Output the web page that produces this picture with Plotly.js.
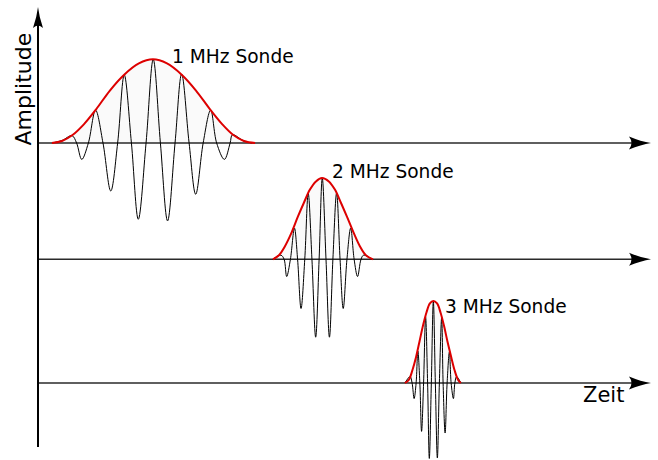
<!DOCTYPE html>
<html><head><meta charset="utf-8">
<script src="https://cdn.plot.ly/plotly-3.0.1.min.js"></script>
<style>html,body{margin:0;padding:0;background:#fff}#chart{width:658px;height:460px}</style>
</head><body><div id="chart"></div>
<script>
// Time in microseconds, amplitude normalised (peak ~1)
const probeLabels = ['1 MHz Sonde', '2 MHz Sonde', '3 MHz Sonde'];
const xAxisLabel = 'Zeit';
const yAxisLabel = 'Amplitude';

const wave1T = [0.45,0.80,1.15,1.31,1.49,1.72,1.97,2.23,2.50,2.74,2.97,3.22,3.46,3.73,3.98,4.23,4.48,4.74,4.97,5.23,5.46,5.72,5.98,6.19,6.46,6.66,6.74,7.14,7.42];
const wave1A = [0,0.03,0.09,0,-0.20,0,0.40,0,-0.585,0,0.83,0,-0.93,0,1.02,0,-0.95,0,0.84,0,-0.625,0,0.40,0,-0.20,0,0.10,0.025,0];
const env1T = [0.45,0.80,1.18,1.57,1.99,2.47,2.96,3.48,3.97,4.46,4.98,5.47,5.96,6.38,6.76,7.14,7.53];
const env1A = [0,0.025,0.10,0.23,0.41,0.64,0.83,0.97,1.02,0.97,0.83,0.64,0.41,0.23,0.10,0.025,0];

const wave2T = [8.15,8.43,8.54,8.63,8.76,8.90,9.01,9.13,9.26,9.38,9.51,9.64,9.76,9.87,10.00,10.12,10.24,10.37,10.49,10.60,10.73,10.86,10.98,11.10,11.22,11.31,11.60];
const wave2A = [0,0.05,0,-0.21,0,0.38,0,-0.60,0,0.805,0,-0.95,0,0.99,0,-0.95,0,0.81,0,-0.60,0,0.38,0,-0.21,0,0.05,0];
const env2T = [8.15,8.36,8.57,8.78,9.02,9.23,9.44,9.65,9.86,10.10,10.31,10.52,10.73,10.98,11.18,11.39,11.64];
const env2A = [0,0.05,0.16,0.31,0.52,0.69,0.85,0.95,0.99,0.95,0.85,0.69,0.52,0.31,0.16,0.05,0];

const wave3T = [12.75,12.93,13.00,13.07,13.14,13.20,13.27,13.33,13.40,13.47,13.54,13.60,13.67,13.74,13.81,13.88,13.95,14.03,14.08,14.15,14.22,14.30,14.36,14.44,14.49,14.55,14.70];
const wave3A = [0,0.077,0,-0.19,0,0.39,0,-0.59,0,0.81,0,-0.92,0,1.00,0,-0.915,0,0.80,0,-0.61,0,0.38,0,-0.19,0,0.077,0];
const env3T = [12.75,12.89,13.01,13.14,13.26,13.38,13.50,13.62,13.74,13.87,13.99,14.11,14.23,14.36,14.48,14.60,14.70];
const env3A = [0,0.04,0.155,0.32,0.51,0.70,0.86,0.97,1.0,0.97,0.86,0.70,0.51,0.32,0.155,0.04,0];

// ---- layout geometry ----
const W = 658, H = 460;
const M = {l: 38, r: 7, t: 7, b: 0};
const AXIS_BOTTOM_PX = 13;   // vertical axis stops this far above the bottom edge
const PX_PER_US = 28.7;      // horizontal scale
const PX_PER_UNIT = 82;      // vertical scale
const baselinesPx = [143, 259.3, 383];
const plotW = W - M.l - M.r, plotH = H - M.t - M.b;
const xRange = [-1 / PX_PER_US, (plotW - 1) / PX_PER_US];
function yRangeFor(b) { return [-(H - M.b - b) / PX_PER_UNIT, (b - M.t) / PX_PER_UNIT]; }

const RED = '#dd0000';
const waves = [[wave1T, wave1A], [wave2T, wave2A], [wave3T, wave3A]];
const envs = [[env1T, env1A], [env2T, env2A], [env3T, env3A]];
const yNames = ['y', 'y2', 'y3'];

const traces = [];
waves.forEach((w, i) => {
  traces.push({x: envs[i][0], y: envs[i][1], yaxis: yNames[i], xaxis: 'x', type: 'scatter', mode: 'lines',
    line: {color: 'rgba(0,0,0,0)', width: 0, shape: 'spline'}, fill: 'tozeroy', fillcolor: 'rgba(0,0,0,0.018)', hoverinfo: 'skip'});
  traces.push({x: w[0], y: w[1], yaxis: yNames[i], xaxis: 'x', type: 'scatter', mode: 'lines',
    line: {color: '#000', width: 1, shape: 'spline', smoothing: 1}, hoverinfo: 'skip'});
  traces.push({x: envs[i][0], y: envs[i][1], yaxis: yNames[i], xaxis: 'x', type: 'scatter', mode: 'lines',
    line: {color: RED, width: 2, shape: 'spline', smoothing: 1}, hoverinfo: 'skip'});
});

const hidden = {visible: false, showgrid: false, zeroline: false, fixedrange: true};
const shapes = [];
// vertical axis
shapes.push({type: 'line', xref: 'paper', yref: 'paper', x0: 0, x1: 0, y0: AXIS_BOTTOM_PX / plotH, y1: 1 - 15 / plotH,
  line: {color: '#000', width: 2}, layer: 'above'});
shapes.push({type: 'path', xref: 'paper', yref: 'paper', xsizemode: 'pixel', ysizemode: 'pixel',
  xanchor: 0, yanchor: 1, path: 'M0,0 Q-1.2,-10 -5,-21 Q0,-16 5,-21 Q1.2,-10 0,0 Z',
  fillcolor: '#000', line: {width: 0}, layer: 'above'});
// horizontal time axes
yNames.forEach(yn => {
  shapes.push({type: 'line', xref: 'paper', yref: yn, x0: 0, x1: 1 - 16 / plotW, y0: 0, y1: 0,
    line: {color: '#2a2a2a', width: 1.5}, layer: 'below'});
  shapes.push({type: 'path', xref: 'paper', yref: yn, xsizemode: 'pixel', ysizemode: 'pixel',
    xanchor: 1, yanchor: 0, path: 'M0,0 Q-10,-1.5 -22,-6.5 Q-17,0 -22,6.5 Q-10,1.5 0,0 Z',
    fillcolor: '#000', line: {width: 0}, layer: 'above'});
});

const FONT = 'DejaVu Sans, Verdana, sans-serif';
const labelPos = [[4.63, 1.055], [10.21, 1.07], [14.15, 0.93]];
const annotations = probeLabels.map((t, i) => ({
  text: t, xref: 'x', yref: yNames[i], x: labelPos[i][0], y: labelPos[i][1],
  xanchor: 'left', yanchor: 'middle', xshift: -2, showarrow: false, font: {family: FONT, size: 18.6, color: '#000'}
}));
annotations.push({text: xAxisLabel, xref: 'x', yref: 'y3', x: 18.95, y: -0.146, xanchor: 'left', yanchor: 'middle',
  xshift: -2, showarrow: false, font: {family: FONT, size: 21, color: '#000'}});
annotations.push({text: yAxisLabel, xref: 'paper', yref: 'paper', x: (23 - M.l) / plotW, y: (H - M.b - 89.5) / plotH,
  xanchor: 'center', yanchor: 'middle', textangle: -90, showarrow: false, font: {family: FONT, size: 22, color: '#000'}});

const layout = {
  width: W, height: H, margin: M, showlegend: false,
  paper_bgcolor: '#fff', plot_bgcolor: '#fff',
  xaxis: Object.assign({range: xRange}, hidden),
  yaxis: Object.assign({range: yRangeFor(baselinesPx[0])}, hidden),
  yaxis2: Object.assign({range: yRangeFor(baselinesPx[1]), overlaying: 'y', anchor: 'x'}, hidden),
  yaxis3: Object.assign({range: yRangeFor(baselinesPx[2]), overlaying: 'y', anchor: 'x'}, hidden),
  shapes: shapes, annotations: annotations
};
Plotly.newPlot('chart', traces, layout, {staticPlot: true, displayModeBar: false});
</script></body></html>
